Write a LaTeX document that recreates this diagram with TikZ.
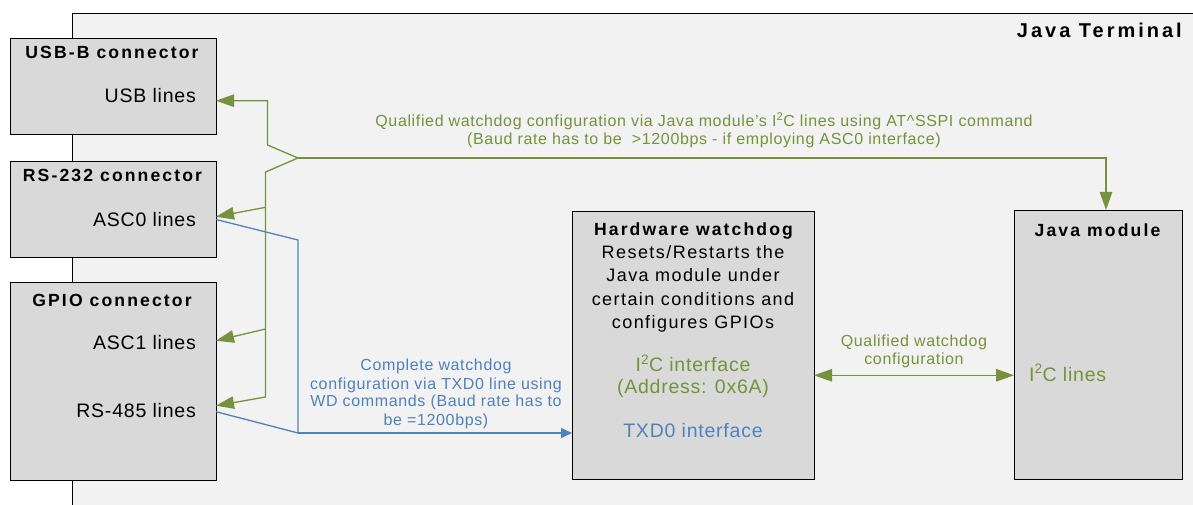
\documentclass[tikz,border=0pt]{standalone}
\usepackage{fontspec}
\setmainfont{Liberation Sans}[LetterSpace=4]
\newfontfamily\titlefont{Liberation Sans}[LetterSpace=12]
\newfontfamily\bigtitlefont{Liberation Sans}[LetterSpace=15]
\newfontfamily\hwfont{Liberation Sans}[LetterSpace=8]
\usetikzlibrary{arrows.meta}
\definecolor{gr}{HTML}{76923C}
\definecolor{bl}{HTML}{4F81BD}
\definecolor{boxfill}{HTML}{D9D9D9}
\definecolor{bgfill}{HTML}{F2F2F2}
\tikzset{
  cbox/.style={draw=black, line width=1.3pt, fill=boxfill, anchor=north west, inner sep=0pt},
  ttl/.style={font=\titlefont\bfseries\fontsize{17.6}{20}\selectfont, inner sep=0pt, anchor=base},
  lbl/.style={font=\fontsize{19.5}{22}\selectfont, inner sep=0pt, anchor=base east},
  hwtxt/.style={font=\hwfont\fontsize{18}{20}\selectfont, inner sep=0pt, anchor=base},
  iface/.style={font=\fontsize{19.5}{22}\selectfont, inner sep=0pt, anchor=base},
  small/.style={font=\fontsize{16}{18}\selectfont, inner sep=0pt, anchor=base},
  gline/.style={draw=gr, line width=1.3pt},
  garrow/.style={gline, -{Triangle[length=18pt,width=12.5pt]}},
  gdarrow/.style={gline, {Triangle[length=18pt,width=12.5pt]}-{Triangle[length=18pt,width=12.5pt]}},
  bline/.style={draw=bl, line width=1.3pt},
  barrow/.style={bline, -{Triangle[length=11pt,width=10pt]}},
}
\begin{document}
\begin{tikzpicture}[x=1pt,y=-1pt]
\useasboundingbox (0,0) rectangle (1193,505);
\clip (0,0) rectangle (1193,505);
\fill[white] (0,0) rectangle (1193,505);

% Java Terminal frame
\node[draw=black, line width=1.3pt, fill=bgfill, anchor=north west, inner sep=0pt,
      minimum width=1150pt, minimum height=520pt] (jt) at (72,13) {};
\node[font=\bigtitlefont\bfseries\fontsize{20}{22}\selectfont, inner sep=0pt, anchor=base east] (jtt) at (1182,37.7) {Java Terminal};

% connector boxes
\node[cbox, minimum width=206pt, minimum height=96pt] (usb) at (10,38) {};
\node[cbox, minimum width=206pt, minimum height=96pt] (rs232) at (10,161) {};
\node[cbox, minimum width=206pt, minimum height=198pt] (gpio) at (10,282) {};

\node[ttl] (usbt) at (112,59) {USB-B connector};
\node[ttl] (rs232t) at (112.5,181.7) {RS-232 connector};
\node[ttl] (gpiot) at (112,306.7) {GPIO connector};

\node[lbl] (usbl) at (196,102.5) {USB lines};
\node[lbl] (asc0l) at (196,226) {ASC0 lines};
\node[lbl] (asc1l) at (196,349.3) {ASC1 lines};
\node[lbl] (rs485l) at (196,417.7) {RS-485 lines};

% hardware watchdog
\node[cbox, minimum width=242pt, minimum height=268pt] (hw) at (572,211) {};
\node[ttl] (hwt) at (693.5,235.7) {Hardware watchdog};
\node[hwtxt] (hw1) at (693,258.3) {Resets/Restarts the};
\node[hwtxt] (hw2) at (693,281.7) {Java module under};
\node[hwtxt] (hw3) at (693,305) {certain conditions and};
\node[hwtxt] (hw4) at (693,328.3) {configures GPIOs};
\node[iface, text=gr] (hwi1) at (693,371.7) {I\textsuperscript{2}C interface};
\node[iface, text=gr] (hwi2) at (693,393.5) {(Address: 0x6A)};
\node[iface, text=bl] (hwtx) at (693,437.7) {TXD0 interface};

% java module
\node[cbox, minimum width=168pt, minimum height=269pt] (jm) at (1014,210) {};
\node[ttl] (jmt) at (1097.5,236) {Java module};
\node[iface, text=gr, anchor=base west] (jmi) at (1029,381) {I\textsuperscript{2}C lines};

% labels
\node[small, text=gr] (top1) at (704,126.7) {Qualified watchdog configuration via Java module’s I\textsuperscript{2}C lines using AT\textasciicircum SSPI command};
\node[small, text=gr] (top2) at (704,145) {(Baud rate has to be\ \ >1200bps - if employing ASC0 interface)};
\node[small, text=bl] (bl1) at (436,370.7) {Complete watchdog};
\node[small, text=bl] (bl2) at (436,389) {configuration via TXD0 line using};
\node[small, text=bl] (bl3) at (436,406.7) {WD commands (Baud rate has to};
\node[small, text=bl] (bl4) at (436,425) {be =1200bps)};
\node[small, text=gr] (mid1) at (914,346) {Qualified watchdog};
\node[small, text=gr] (mid2) at (914,364) {configuration};

% coordinates
\coordinate (J) at (298,158);
\coordinate (jmin) at (1106,210);
\coordinate (usbin) at (216,100.7);
\coordinate (asc0in) at (216,216.7);
\coordinate (asc1in) at (216,340.7);
\coordinate (rs485in) at (216,405.7);
\coordinate (asc0out) at (216,219.5);
\coordinate (rs485out) at (216,411.7);
\coordinate (b1) at (265.5,207.3);
\coordinate (b2) at (265.5,329);
\coordinate (b3) at (265.5,397);
\coordinate (bt) at (265.5,172);
\coordinate (ub) at (267.5,145);
\coordinate (ut) at (267.5,100.7);
\coordinate (k1) at (298,240);
\coordinate (k2) at (298,433);
\coordinate (hwin) at (572,433);
\coordinate (hwr) at (814,375.3);
\coordinate (jml) at (1014,375.3);

% green connectors
\draw[garrow] (J) -| (jmin);
\draw[garrow] (J) -- (ub) -- (ut) -- (usbin);
\draw[gline] (J) -- (bt) -- (b3);
\draw[garrow] (b1) -- (asc0in);
\draw[garrow] (b2) -- (asc1in);
\draw[garrow] (b3) -- (rs485in);
\draw[gdarrow] (hwr) -- (jml);

% blue connectors
\draw[bline] (asc0out) -- (k1) -- (k2);
\draw[bline] (rs485out) -- (k2);
\draw[barrow] (k2) -- (hwin);
\end{tikzpicture}
\end{document}
